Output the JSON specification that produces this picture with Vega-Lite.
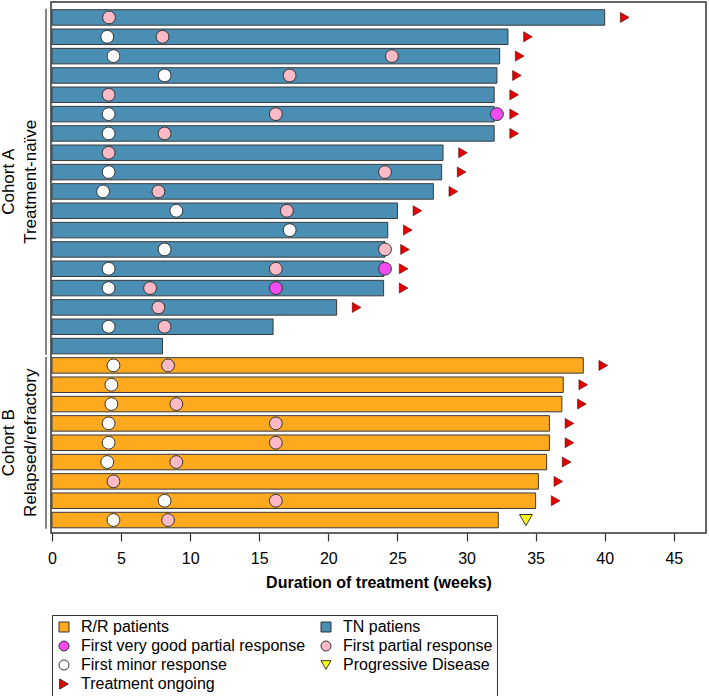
{
  "$schema": "https://vega.github.io/schema/vega-lite/v6.json",
  "autosize": {"type": "none"},
  "width": 655,
  "height": 531,
  "padding": {"left": 51, "top": 2, "right": 3, "bottom": 163},
  "background": "white",
  "datasets": {
    "patients": [
      {"row": 1, "cohort": "A", "type": "TN patiens", "duration": 40.0, "ongoing": true},
      {"row": 2, "cohort": "A", "type": "TN patiens", "duration": 33.0, "ongoing": true},
      {"row": 3, "cohort": "A", "type": "TN patiens", "duration": 32.4, "ongoing": true},
      {"row": 4, "cohort": "A", "type": "TN patiens", "duration": 32.2, "ongoing": true},
      {"row": 5, "cohort": "A", "type": "TN patiens", "duration": 32.0, "ongoing": true},
      {"row": 6, "cohort": "A", "type": "TN patiens", "duration": 32.0, "ongoing": true},
      {"row": 7, "cohort": "A", "type": "TN patiens", "duration": 32.0, "ongoing": true},
      {"row": 8, "cohort": "A", "type": "TN patiens", "duration": 28.3, "ongoing": true},
      {"row": 9, "cohort": "A", "type": "TN patiens", "duration": 28.2, "ongoing": true},
      {"row": 10, "cohort": "A", "type": "TN patiens", "duration": 27.6, "ongoing": true},
      {"row": 11, "cohort": "A", "type": "TN patiens", "duration": 25.0, "ongoing": true},
      {"row": 12, "cohort": "A", "type": "TN patiens", "duration": 24.3, "ongoing": true},
      {"row": 13, "cohort": "A", "type": "TN patiens", "duration": 24.1, "ongoing": true},
      {"row": 14, "cohort": "A", "type": "TN patiens", "duration": 24.0, "ongoing": true},
      {"row": 15, "cohort": "A", "type": "TN patiens", "duration": 24.0, "ongoing": true},
      {"row": 16, "cohort": "A", "type": "TN patiens", "duration": 20.6, "ongoing": true},
      {"row": 17, "cohort": "A", "type": "TN patiens", "duration": 16.0, "ongoing": false},
      {"row": 18, "cohort": "A", "type": "TN patiens", "duration": 8.0, "ongoing": false},
      {"row": 19, "cohort": "B", "type": "R/R patients", "duration": 38.45, "ongoing": true},
      {"row": 20, "cohort": "B", "type": "R/R patients", "duration": 37.0, "ongoing": true},
      {"row": 21, "cohort": "B", "type": "R/R patients", "duration": 36.9, "ongoing": true},
      {"row": 22, "cohort": "B", "type": "R/R patients", "duration": 36.0, "ongoing": true},
      {"row": 23, "cohort": "B", "type": "R/R patients", "duration": 36.0, "ongoing": true},
      {"row": 24, "cohort": "B", "type": "R/R patients", "duration": 35.8, "ongoing": true},
      {"row": 25, "cohort": "B", "type": "R/R patients", "duration": 35.2, "ongoing": true},
      {"row": 26, "cohort": "B", "type": "R/R patients", "duration": 35.0, "ongoing": true},
      {"row": 27, "cohort": "B", "type": "R/R patients", "duration": 32.3, "ongoing": false}
    ],
    "events": [
      {"row": 1, "week": 4.13, "type": "First partial response"},
      {"row": 2, "week": 4.0, "type": "First minor response"},
      {"row": 2, "week": 8.0, "type": "First partial response"},
      {"row": 3, "week": 4.45, "type": "First minor response"},
      {"row": 3, "week": 24.6, "type": "First partial response"},
      {"row": 4, "week": 8.15, "type": "First minor response"},
      {"row": 4, "week": 17.2, "type": "First partial response"},
      {"row": 5, "week": 4.1, "type": "First partial response"},
      {"row": 6, "week": 4.1, "type": "First minor response"},
      {"row": 6, "week": 16.2, "type": "First partial response"},
      {"row": 6, "week": 32.2, "type": "First very good partial response"},
      {"row": 7, "week": 4.1, "type": "First minor response"},
      {"row": 7, "week": 8.15, "type": "First partial response"},
      {"row": 8, "week": 4.1, "type": "First partial response"},
      {"row": 9, "week": 4.1, "type": "First minor response"},
      {"row": 9, "week": 24.1, "type": "First partial response"},
      {"row": 10, "week": 3.7, "type": "First minor response"},
      {"row": 10, "week": 7.7, "type": "First partial response"},
      {"row": 11, "week": 9.0, "type": "First minor response"},
      {"row": 11, "week": 17.0, "type": "First partial response"},
      {"row": 12, "week": 17.2, "type": "First minor response"},
      {"row": 13, "week": 8.15, "type": "First minor response"},
      {"row": 13, "week": 24.1, "type": "First partial response"},
      {"row": 14, "week": 4.1, "type": "First minor response"},
      {"row": 14, "week": 16.2, "type": "First partial response"},
      {"row": 14, "week": 24.1, "type": "First very good partial response"},
      {"row": 15, "week": 4.1, "type": "First minor response"},
      {"row": 15, "week": 7.1, "type": "First partial response"},
      {"row": 15, "week": 16.2, "type": "First very good partial response"},
      {"row": 16, "week": 7.7, "type": "First partial response"},
      {"row": 17, "week": 4.1, "type": "First minor response"},
      {"row": 17, "week": 8.15, "type": "First partial response"},
      {"row": 19, "week": 4.45, "type": "First minor response"},
      {"row": 19, "week": 8.4, "type": "First partial response"},
      {"row": 20, "week": 4.3, "type": "First minor response"},
      {"row": 21, "week": 4.3, "type": "First minor response"},
      {"row": 21, "week": 9.0, "type": "First partial response"},
      {"row": 22, "week": 4.1, "type": "First minor response"},
      {"row": 22, "week": 16.2, "type": "First partial response"},
      {"row": 23, "week": 4.1, "type": "First minor response"},
      {"row": 23, "week": 16.2, "type": "First partial response"},
      {"row": 24, "week": 4.0, "type": "First minor response"},
      {"row": 24, "week": 9.0, "type": "First partial response"},
      {"row": 25, "week": 4.45, "type": "First partial response"},
      {"row": 26, "week": 8.15, "type": "First minor response"},
      {"row": 26, "week": 16.2, "type": "First partial response"},
      {"row": 27, "week": 4.45, "type": "First minor response"},
      {"row": 27, "week": 8.4, "type": "First partial response"},
      {"row": 27, "week": 34.3, "type": "Progressive Disease"}
    ]
  },
  "layer": [
    {
      "data": {"name": "patients"},
      "mark": {"type": "bar", "orient": "horizontal", "size": 15.5, "stroke": "#3a3a3a", "strokeWidth": 1},
      "encoding": {
        "y": {"field": "row", "type": "quantitative", "axis": null,
              "scale": {"domain": [0.2, 27.67], "reverse": true, "nice": false, "zero": false, "padding": 0}},
        "x": {"field": "duration", "type": "quantitative",
              "scale": {"domain": [-0.07, 47.33], "nice": false, "zero": false, "padding": 0},
              "axis": {"values": [0, 5, 10, 15, 20, 25, 30, 35, 40, 45], "title": "Duration of treatment (weeks)",
                       "domain": false, "grid": false, "tickSize": 8, "tickColor": "#333333", "tickWidth": 1.2,
                       "labelFontSize": 16, "labelColor": "#000000", "labelPadding": 9, "labelFont": "Liberation Sans",
                       "titleFontSize": 16, "titleFontWeight": "bold", "titleColor": "#000000", "titlePadding": 8,
                       "titleFont": "Liberation Sans", "labelFlush": false}},
        "color": {"field": "type", "type": "nominal",
                  "scale": {"domain": ["R/R patients", "First very good partial response", "First minor response", "Treatment ongoing", "TN patiens", "First partial response", "Progressive Disease"],
                            "range": ["#FFA91F", "#F44CF2", "#FFFFFF", "#E50000", "#4B8EB4", "#FBBAC6", "#FFFF00"]},
                  "legend": {"title": null, "symbolStrokeColor": "#333333", "symbolStrokeWidth": 1,
                             "encode": {"symbols": {"update": {"stroke": {"value": "#333333"}, "strokeWidth": {"value": 1}}}}}}
      }
    },
    {
      "data": {"name": "patients"},
      "transform": [
        {"filter": "datum.ongoing"},
        {"calculate": "'Treatment ongoing'", "as": "type"}
      ],
      "mark": {"type": "point", "filled": true, "size": 100, "xOffset": 20, "stroke": "#550000", "strokeWidth": 0.6, "opacity": 1},
      "encoding": {
        "y": {"field": "row", "type": "quantitative", "axis": null,
              "scale": {"domain": [0.2, 27.67], "reverse": true, "nice": false, "zero": false, "padding": 0}},
        "x": {"field": "duration", "type": "quantitative",
              "scale": {"domain": [-0.07, 47.33], "nice": false, "zero": false, "padding": 0},
              "axis": {"values": [0, 5, 10, 15, 20, 25, 30, 35, 40, 45], "title": "Duration of treatment (weeks)",
                       "domain": false, "grid": false, "tickSize": 8, "tickColor": "#333333", "tickWidth": 1.2,
                       "labelFontSize": 16, "labelColor": "#000000", "labelPadding": 9, "labelFont": "Liberation Sans",
                       "titleFontSize": 16, "titleFontWeight": "bold", "titleColor": "#000000", "titlePadding": 8,
                       "titleFont": "Liberation Sans", "labelFlush": false}},
        "color": {"field": "type", "type": "nominal", "legend": {"title": null}},
        "shape": {"field": "type", "type": "nominal",
                  "scale": {"domain": ["R/R patients", "First very good partial response", "First minor response", "Treatment ongoing", "TN patiens", "First partial response", "Progressive Disease"],
                            "range": ["square", "circle", "circle", "triangle-right", "square", "circle", "triangle-down"]},
                  "legend": {"title": null}}
      }
    },
    {
      "data": {"name": "events"},
      "mark": {"type": "point", "filled": true, "size": 165, "stroke": "#333333", "strokeWidth": 1, "opacity": 1},
      "encoding": {
        "y": {"field": "row", "type": "quantitative", "axis": null,
              "scale": {"domain": [0.2, 27.67], "reverse": true, "nice": false, "zero": false, "padding": 0}},
        "x": {"field": "week", "type": "quantitative",
              "scale": {"domain": [-0.07, 47.33], "nice": false, "zero": false, "padding": 0},
              "axis": {"values": [0, 5, 10, 15, 20, 25, 30, 35, 40, 45], "title": "Duration of treatment (weeks)",
                       "domain": false, "grid": false, "tickSize": 8, "tickColor": "#333333", "tickWidth": 1.2,
                       "labelFontSize": 16, "labelColor": "#000000", "labelPadding": 9, "labelFont": "Liberation Sans",
                       "titleFontSize": 16, "titleFontWeight": "bold", "titleColor": "#000000", "titlePadding": 8,
                       "titleFont": "Liberation Sans", "labelFlush": false}},
        "color": {"field": "type", "type": "nominal", "legend": {"title": null}},
        "shape": {"field": "type", "type": "nominal", "legend": {"title": null}}
      }
    },
    {
      "data": {"name": "patients"},
      "transform": [
        {"aggregate": [
          {"op": "min", "field": "row", "as": "first"},
          {"op": "max", "field": "row", "as": "last"}
        ], "groupby": ["cohort"]},
        {"calculate": "datum.first - 0.45", "as": "top"},
        {"calculate": "datum.last + 0.45", "as": "bottom"}
      ],
      "mark": {"type": "rule", "color": "#333333", "strokeWidth": 1.2},
      "encoding": {
        "y": {"field": "top", "type": "quantitative", "axis": null,
              "scale": {"domain": [0.2, 27.67], "reverse": true, "nice": false, "zero": false, "padding": 0}},
        "y2": {"field": "bottom"},
        "x": {"datum": -0.43, "type": "quantitative",
              "scale": {"domain": [-0.07, 47.33], "nice": false, "zero": false, "padding": 0},
              "axis": {"values": [0, 5, 10, 15, 20, 25, 30, 35, 40, 45], "title": "Duration of treatment (weeks)",
                       "domain": false, "grid": false, "tickSize": 8, "tickColor": "#333333", "tickWidth": 1.2,
                       "labelFontSize": 16, "labelColor": "#000000", "labelPadding": 9, "labelFont": "Liberation Sans",
                       "titleFontSize": 16, "titleFontWeight": "bold", "titleColor": "#000000", "titlePadding": 8,
                       "titleFont": "Liberation Sans", "labelFlush": false}}
      }
    },
    {
      "data": {"name": "patients"},
      "transform": [
        {"aggregate": [{"op": "mean", "field": "row", "as": "mid"}], "groupby": ["cohort"]},
        {"calculate": "datum.cohort == 'A' ? ['Cohort A', 'Treatment-naïve'] : ['Cohort B', 'Relapsed/refractory']", "as": "label"}
      ],
      "mark": {"type": "text", "angle": 270, "align": "center", "baseline": "middle", "fontSize": 17, "lineHeight": 22, "font": "Liberation Sans", "color": "#000000"},
      "encoding": {
        "y": {"field": "mid", "type": "quantitative", "axis": null,
              "scale": {"domain": [0.2, 27.67], "reverse": true, "nice": false, "zero": false, "padding": 0}},
        "x": {"datum": -3.1, "type": "quantitative",
              "scale": {"domain": [-0.07, 47.33], "nice": false, "zero": false, "padding": 0},
              "axis": {"values": [0, 5, 10, 15, 20, 25, 30, 35, 40, 45], "title": "Duration of treatment (weeks)",
                       "domain": false, "grid": false, "tickSize": 8, "tickColor": "#333333", "tickWidth": 1.2,
                       "labelFontSize": 16, "labelColor": "#000000", "labelPadding": 9, "labelFont": "Liberation Sans",
                       "titleFontSize": 16, "titleFontWeight": "bold", "titleColor": "#000000", "titlePadding": 8,
                       "titleFont": "Liberation Sans", "labelFlush": false}},
        "text": {"field": "label"}
      }
    }
  ],
  "config": {
    "view": {"stroke": "#333333", "strokeWidth": 1.5},
    "font": "Liberation Sans",
    "legend": {
      "orient": "none",
      "legendX": 1,
      "legendY": 613,
      "columns": 2,
      "columnPadding": 12,
      "rowPadding": 3,
      "padding": 4,
      "strokeColor": "#333333",
      "fillColor": "white",
      "labelFontSize": 16,
      "labelFont": "Liberation Sans",
      "labelColor": "#000000",
      "labelLimit": 400,
      "labelOffset": 9,
      "symbolSize": 100,
      "symbolStrokeColor": "#333333",
      "symbolStrokeWidth": 1,
      "symbolOpacity": 1
    }
  }
}
